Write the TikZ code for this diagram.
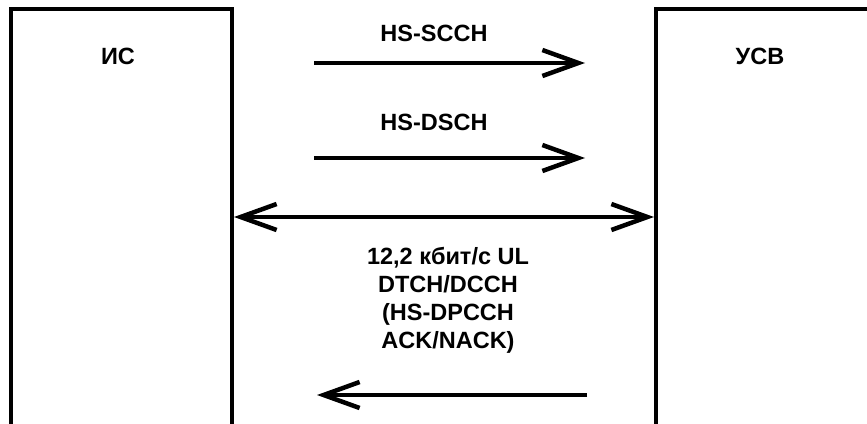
\documentclass[tikz,border=0pt]{standalone}
\usepackage{fontspec}
\setmainfont{Liberation Sans}
\usetikzlibrary{arrows.meta}
\begin{document}
\begin{tikzpicture}[x=1pt,y=-1pt,
	station/.style={line width=4pt},
	barb/.tip={Straight Barb[length=36pt,width=26pt,line width=4.5pt]},
	msg/.style={line width=3.5pt,-barb},
	every node/.style={font=\fontsize{23.5}{28}\selectfont\bfseries,inner sep=0pt}]
	\useasboundingbox (0,0) rectangle (867,423);
	% stations
	\draw [station] (11,430) -- (11,9) -- (232,9) -- (232,430);
	\draw [station] (656,430) -- (656,9) -- (875,9);
	\node (is) at (118,56) {ИС};
	\node (usv) at (760,56) {УСВ};
	% channels
	\coordinate (scchA) at (314,63);
	\coordinate (scchB) at (585,63);
	\coordinate (dschA) at (314,158);
	\coordinate (dschB) at (585,158);
	\coordinate (dchA) at (234,217);
	\coordinate (dchB) at (654,217);
	\coordinate (ackA) at (587,395);
	\coordinate (ackB) at (317,395);
	\draw [msg] (scchA) -- (scchB);
	\draw [msg] (dschA) -- (dschB);
	\draw [line width=3.5pt,barb-barb] (dchA) -- (dchB);
	\draw [msg] (ackA) -- (ackB);
	\node (scch) at (434,33) {HS-SCCH};
	\node (dsch) at (434,122) {HS-DSCH};
	\node [align=center] (dch) at (448,300) {12,2 кбит/с UL\\DTCH/DCCH\\(HS-DPCCH\\ACK/NACK)};
\end{tikzpicture}
\end{document}
